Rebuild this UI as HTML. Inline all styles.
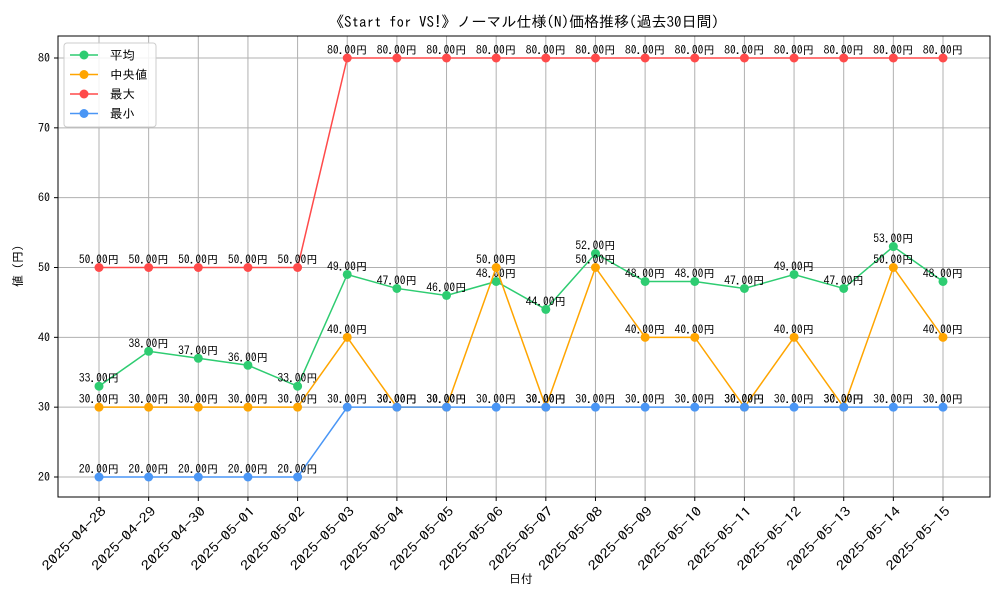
<!DOCTYPE html>
<html><head><meta charset="utf-8">
<style>
body{margin:0;background:#fff;}
svg text{font-family:"IPAGothic","Liberation Mono","Noto Sans CJK JP",monospace;}
</style></head>
<body>
<svg id="chart" width="1000" height="600" xmlns="http://www.w3.org/2000/svg">
<rect width="1000" height="600" fill="#fff"/>
<text x="524" y="27" font-size="15" text-anchor="middle">《Start for VS!》ノーマル仕様(N)価格推移(過去30日間)</text>
<g id="grid"></g>
<g id="axes"></g>
<g id="series"></g>
<rect x="58" y="36" width="932" height="461" fill="none" stroke="#000" stroke-width="1"/>
<text x="521" y="583" font-size="12" text-anchor="middle">日付</text>
<text transform="translate(22,266) rotate(-90)" font-size="12" text-anchor="middle">値 (円)</text>
<g id="legend"></g>
</svg>
<script>
const dates=["2025-04-28","2025-04-29","2025-04-30","2025-05-01","2025-05-02","2025-05-03","2025-05-04","2025-05-05","2025-05-06","2025-05-07","2025-05-08","2025-05-09","2025-05-10","2025-05-11","2025-05-12","2025-05-13","2025-05-14","2025-05-15"];
const avgValues=[33,38,37,36,33,49,47,46,48,44,52,48,48,47,49,47,53,48];
const medianValues=[30,30,30,30,30,40,30,30,50,30,50,40,40,30,40,30,50,40];
const maxValues=[50,50,50,50,50,80,80,80,80,80,80,80,80,80,80,80,80,80];
const minValues=[20,20,20,20,20,30,30,30,30,30,30,30,30,30,30,30,30,30];
const yTicks=[20,30,40,50,60,70,80];
const seriesNames=["平均","中央値","最大","最小"];
const NS="http://www.w3.org/2000/svg";
function mk(tag,attrs,parent){const e=document.createElementNS(NS,tag);for(const k in attrs)e.setAttribute(k,attrs[k]);parent.appendChild(e);return e;}
const x0=99,x1=943;
function xs(i){return x0+(x1-x0)*i/(dates.length-1);}
const yMin=20,yMax=80,py0=477,py1=58;
function ys(v){return py0+(v-yMin)*(py1-py0)/(yMax-yMin);}
const grid=document.getElementById('grid'),axes=document.getElementById('axes'),ser=document.getElementById('series');
dates.forEach((d,i)=>{
  const x=xs(i);
  const g=mk('line',{x1:x,x2:x,y1:36,y2:497,stroke:'#b0b0b0','stroke-width':1},grid);
  
  const t=mk('line',{x1:x,x2:x,y1:497,y2:501,stroke:'#000'},axes);
  
  const lx=x+8,ly=512;
  const l=mk('text',{x:lx,y:ly,'font-size':13,'text-anchor':'end',textLength:84,lengthAdjust:'spacingAndGlyphs',transform:`rotate(-45 ${lx} ${ly})`},axes);
  l.textContent=d;
  
});
yTicks.forEach(v=>{
  const y=ys(v);
  const g=mk('line',{x1:58,x2:990,y1:y,y2:y,stroke:'#b0b0b0','stroke-width':1},grid);
  
  const t=mk('line',{x1:54,x2:58,y1:y,y2:y,stroke:'#000'},axes);
  
  const l=mk('text',{x:50,y:y+4,'font-size':12,'text-anchor':'end'},axes);
  l.textContent=v;
  
});
const all=[[avgValues,'#2ecc71','avg'],[medianValues,'#ffa500','median'],[maxValues,'#ff4a4a','max'],[minValues,'#4a96f5','min']];
all.forEach(([vals,col,nm])=>{
  const pl=mk('polyline',{points:vals.map((v,i)=>xs(i)+','+ys(v)).join(' '),fill:'none',stroke:col,'stroke-width':1.5},ser);
  
  vals.forEach((v,i)=>{
    const c=mk('circle',{cx:xs(i),cy:ys(v),r:4.5,fill:col},ser);
    
    const t=mk('text',{x:xs(i),y:ys(v)-4,'font-size':11.5,'text-anchor':'middle'},ser);
    t.textContent=v.toFixed(2)+'円';
    
  });
});
const lg=document.getElementById('legend');
const bg=mk('rect',{x:64,y:43,width:92,height:84,rx:3,fill:'#fff','fill-opacity':0.85,stroke:'#ccc'},lg);

all.forEach(([vals,col,nm],k)=>{
  const y=55+k*19.5;
  const ln=mk('line',{x1:70,x2:98,y1:y,y2:y,stroke:col,'stroke-width':1.5},lg);
  
  const c=mk('circle',{cx:84,cy:y,r:4.5,fill:col},lg);
  
  const t=mk('text',{x:110,y:y+4.5,'font-size':12.5},lg);
  t.textContent=seriesNames[k];
  
});
</script>
</body></html>
